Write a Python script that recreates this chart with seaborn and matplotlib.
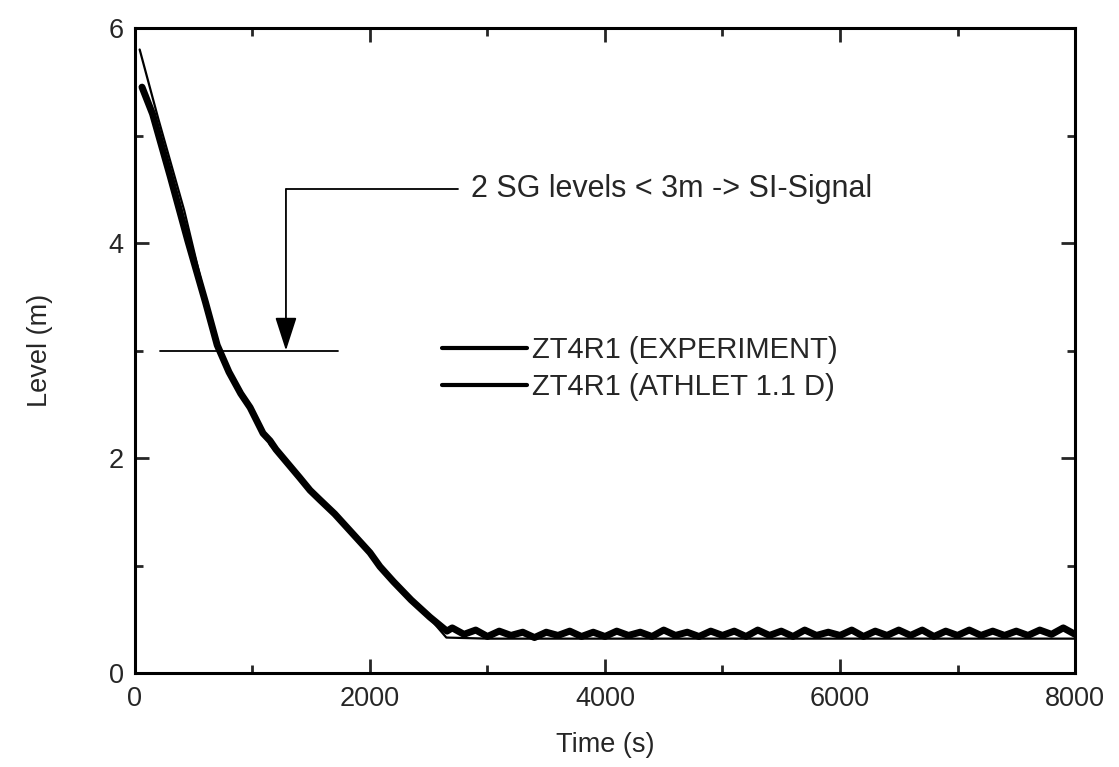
import matplotlib
matplotlib.use("Agg")
import matplotlib.pyplot as plt
import seaborn as sns
import pandas as pd
from matplotlib.ticker import MultipleLocator

# ---- data ----
exp_time = [60, 150, 300, 450, 600, 700, 800, 900, 980, 1090, 1150, 1200, 1300,
            1400, 1490, 1575, 1700, 1850, 2000, 2085, 2200, 2350, 2510, 2655,
            2700, 2800, 2900, 3000, 3100, 3200, 3300, 3400, 3500, 3600, 3700, 3800,
            3900, 4000, 4100, 4200, 4300, 4400, 4500, 4600, 4700, 4800, 4900, 5000,
            5100, 5200, 5300, 5400, 5500, 5600, 5700, 5800, 5900, 6000, 6100, 6200,
            6300, 6400, 6500, 6600, 6700, 6800, 6900, 7000, 7100, 7200, 7300, 7400,
            7500, 7600, 7700, 7800, 7900, 8000]
exp_level = [5.45, 5.2, 4.62, 4.02, 3.45, 3.05, 2.8, 2.6, 2.47, 2.23, 2.16, 2.08, 1.95,
             1.82, 1.70, 1.61, 1.48, 1.30, 1.12, 0.99, 0.85, 0.68, 0.52, 0.39,
             0.42, 0.36, 0.40, 0.34, 0.39, 0.35, 0.38, 0.33, 0.38, 0.35, 0.39, 0.34,
             0.38, 0.34, 0.39, 0.35, 0.38, 0.34, 0.40, 0.35, 0.38, 0.34, 0.39, 0.35,
             0.39, 0.34, 0.40, 0.35, 0.39, 0.34, 0.40, 0.35, 0.38, 0.35, 0.40, 0.34,
             0.39, 0.35, 0.40, 0.35, 0.40, 0.34, 0.39, 0.35, 0.40, 0.35, 0.39, 0.35,
             0.39, 0.35, 0.40, 0.36, 0.42, 0.36]

ath_time = [40, 200, 420, 600, 700, 850, 1000, 1150, 1300, 1500, 1700, 2000, 2300,
            2500, 2650, 3000, 4000, 5000, 6000, 7000, 8000]
ath_level = [5.8, 5.15, 4.3, 3.48, 3.05, 2.72, 2.45, 2.12, 1.95, 1.69, 1.47, 1.10, 0.75,
             0.52, 0.33, 0.32, 0.32, 0.32, 0.32, 0.32, 0.32]

label_exp = "ZT4R1 (EXPERIMENT)"
label_ath = "ZT4R1 (ATHLET 1.1 D)"
annot_text = "2 SG levels < 3m -> SI-Signal"
signal_level = 3.0
signal_line_t = [213, 1730]
arrow_t = 1285
arrow_top = 4.5
arrow_right_t = 2750

x_ticks = [0, 2000, 4000, 6000, 8000]
y_ticks = [0, 2, 4, 6]

# ---- styling ----
sns.set_style("ticks")
plt.rcParams['font.family'] = ['Liberation Sans', 'DejaVu Sans']
FS = 19.5
FS_TICK = 19.5
FS_TXT = 22

df_exp = pd.DataFrame({"Time": exp_time, "Level": exp_level})
df_ath = pd.DataFrame({"Time": ath_time, "Level": ath_level})

fig = plt.figure(figsize=(11.19, 7.67), dpi=100)
ax = fig.add_axes([0.1206, 0.1225, 0.8401, 0.8410])

sns.lineplot(data=df_exp, x="Time", y="Level", ax=ax, color="black", lw=5.0,
             label=label_exp, sort=False, estimator=None)
sns.lineplot(data=df_ath, x="Time", y="Level", ax=ax, color="black", lw=1.6,
             label=label_ath, sort=False, estimator=None)

# SI-signal threshold and annotation
ax.plot(signal_line_t, [signal_level, signal_level], color="black", lw=1.3)
ax.plot([arrow_t, arrow_right_t], [arrow_top, arrow_top], color="black", lw=1.3)
ax.annotate("", xy=(arrow_t, signal_level), xytext=(arrow_t, arrow_top),
            arrowprops=dict(arrowstyle="-|>,head_length=1.3,head_width=0.42",
                            mutation_scale=16, color="black", lw=1.3,
                            shrinkA=0, shrinkB=0))
ax.text(arrow_right_t + 110, arrow_top, annot_text, fontsize=FS_TXT, va="center", ha="left")

ax.set_xlim(0, 8000)
ax.set_ylim(0, 6)
ax.set_xticks(x_ticks)
ax.set_yticks(y_ticks)
ax.xaxis.set_minor_locator(MultipleLocator(1000))
ax.yaxis.set_minor_locator(MultipleLocator(1))
ax.tick_params(which="both", direction="in", top=True, right=True, width=2, labelsize=FS_TICK)
ax.tick_params(which="major", length=10)
ax.tick_params(which="minor", length=6)
ax.tick_params(axis="x", pad=9)
ax.tick_params(axis="y", pad=8)
for s in ax.spines.values():
    s.set_linewidth(2.2)
    s.set_color("black")

ax.set_xlabel("Time (s)", fontsize=FS, labelpad=15)
ax.set_ylabel("Level (m)", fontsize=FS, labelpad=40)

leg = ax.legend(loc="upper left", bbox_to_anchor=(0.3266, 0.522), frameon=False,
                fontsize=21, handlelength=2.9, handletextpad=0.2, borderpad=0,
                borderaxespad=0, labelspacing=0.29)
for h in leg.get_lines():
    h.set_linewidth(3.0)

fig.savefig("out.png", dpi=100, facecolor="white")
